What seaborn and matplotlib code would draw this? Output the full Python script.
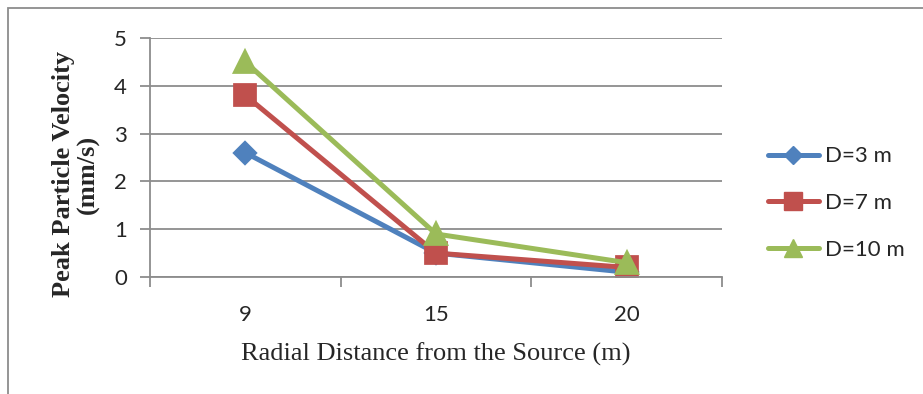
import matplotlib
matplotlib.use("Agg")
import matplotlib.pyplot as plt
import seaborn as sns
import pandas as pd
from matplotlib.patches import Rectangle
from matplotlib.lines import Line2D

distances = ["9", "15", "20"]
series_names = ["D=3 m", "D=7 m", "D=10 m"]
d3 = [2.6, 0.5, 0.1]
d7 = [3.8, 0.5, 0.2]
d10 = [4.5, 0.9, 0.3]
y_ticks = [0, 1, 2, 3, 4, 5]

colors = ["#4F81BD", "#C0504D", "#9BBB59"]
markers = ["D", "s", "^"]
msizes = [10.5, 14, 15]

rows = []
for name, vals in zip(series_names, [d3, d7, d10]):
    for d, v in zip(distances, vals):
        rows.append({"dist": d, "ppv": v, "series": name})
df = pd.DataFrame(rows)

sns.set_style("white")
fig = plt.figure(figsize=(9.23, 3.94), dpi=100)
ax = fig.add_axes([150/923, 1-277/394, (722-150)/923, (277-38)/394])

for i, name in enumerate(series_names):
    sub = df[df["series"] == name]
    sns.pointplot(data=sub, x="dist", y="ppv", order=distances, color=colors[i],
                  marker=markers[i], markersize=msizes[i], linewidth=3.6,
                  ax=ax, errorbar=None)

ax.set_xlim(-0.5, 2.5)
ax.set_ylim(0, 5)
ax.set_yticks(y_ticks)
ax.yaxis.grid(True, color="#8C8C8C", linewidth=1.3)
ax.set_axisbelow(True)
for s in ["top", "right"]:
    ax.spines[s].set_visible(False)
for s in ["left", "bottom"]:
    ax.spines[s].set_color("#8C8C8C")
    ax.spines[s].set_linewidth(1.3)
ax.tick_params(axis="y", which="major", direction="out", length=7.5, width=1.3,
               color="#8C8C8C", left=True, labelsize=16, pad=9)
ax.set_xticks([-0.5, 0.5, 1.5, 2.5], minor=True)
ax.tick_params(axis="x", which="minor", direction="out", length=7.5, width=1.3,
               color="#8C8C8C", bottom=True)
ax.tick_params(axis="x", which="major", length=0, labelsize=16, pad=20)
for lab in ax.get_xticklabels() + ax.get_yticklabels():
    lab.set_fontfamily("Lato")

ax.set_xlabel("Radial Distance from the Source (m)", fontfamily="Liberation Serif",
              fontsize=19, labelpad=13)
ax.set_ylabel("Peak Particle Velocity\n(mm/s)", fontfamily="Liberation Serif",
              fontsize=19, fontweight="bold", linespacing=1.1)
ax.yaxis.set_label_coords((100 - 150) / 572, (277 - 174) / 239)

handles = [Line2D([0], [0], color=c, marker=m, markersize=ms * 0.9, linewidth=3.6)
           for c, m, ms in zip(colors, markers, msizes)]
leg = fig.legend(handles, series_names, loc="center left",
                 bbox_to_anchor=(752/923, 1-203/394),
                 frameon=False, prop={"family": "Lato", "size": 16},
                 labelspacing=1.2, handlelength=2.3, handletextpad=0.3,
                 borderpad=0.2)

fig.patches.append(Rectangle((8/923, -0.05), 1.0, 1-8/394+0.05, transform=fig.transFigure,
                             fill=False, edgecolor="#8C8C8C", linewidth=1.3))

fig.savefig("out.png", dpi=100)
